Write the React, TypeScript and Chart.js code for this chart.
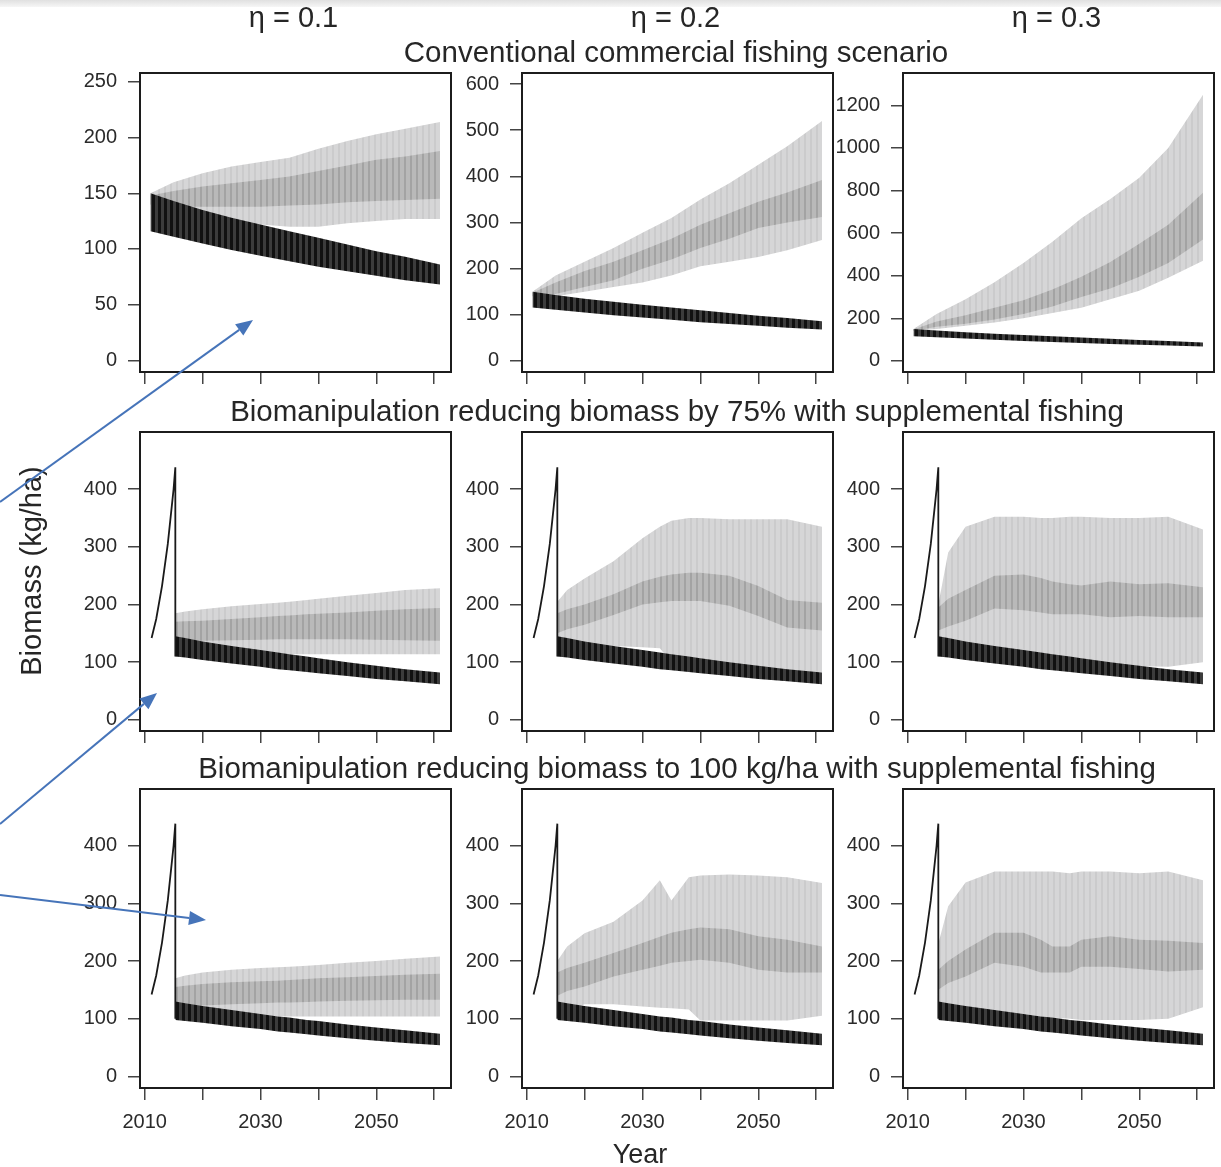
import React, { useEffect, useRef } from "react";
import { Chart, registerables } from "chart.js";
Chart.register(...registerables);

// ---------- data ----------
const xTickValues = [2010, 2020, 2030, 2040, 2050, 2060];
const xLabelValues = [2010, 2030, 2050];
const yTicksConv01 = [0, 50, 100, 150, 200, 250];
const yTicksConv02 = [0, 100, 200, 300, 400, 500, 600];
const yTicksConv03 = [0, 200, 400, 600, 800, 1000, 1200];
const yTicksBio = [0, 100, 200, 300, 400];

const etaLabels = ["η = 0.1", "η = 0.2", "η = 0.3"];
const rowTitles = [
  "Conventional commercial fishing scenario",
  "Biomanipulation reducing biomass by 75% with supplemental fishing",
  "Biomanipulation reducing biomass to 100 kg/ha with supplemental fishing",
];

// conventional scenario (row 1)
const yearsConv = [2011, 2015, 2020, 2025, 2030, 2035, 2040, 2045, 2050, 2055, 2061];
const convBlackHi = [150, 143, 135, 128, 122, 116, 110, 104, 98, 93, 86];
const convBlackLo = [116, 111, 105, 99, 94, 89, 84, 80, 76, 72, 68];

const conv01OuterHi = [150, 160, 168, 174, 178, 182, 190, 197, 203, 208, 214];
const conv01OuterLo = [140, 133, 128, 124, 122, 120, 120, 123, 125, 127, 127];
const conv01InnerHi = [148, 152, 156, 159, 162, 165, 170, 175, 180, 183, 188];
const conv01InnerLo = [140, 138, 138, 138, 138, 139, 140, 142, 143, 144, 145];

const conv02OuterHi = [150, 185, 215, 245, 278, 310, 350, 385, 425, 465, 520];
const conv02OuterLo = [140, 140, 150, 160, 170, 185, 205, 215, 225, 240, 262];
const conv02InnerHi = [148, 170, 195, 215, 240, 265, 295, 320, 345, 365, 392];
const conv02InnerLo = [140, 145, 160, 175, 200, 220, 245, 265, 288, 300, 312];

const conv03OuterHi = [150, 220, 290, 370, 460, 560, 670, 760, 860, 1000, 1250];
const conv03OuterLo = [140, 150, 165, 180, 200, 225, 250, 290, 330, 390, 470];
const conv03InnerHi = [148, 185, 215, 250, 285, 335, 395, 465, 550, 640, 790];
const conv03InnerLo = [140, 160, 175, 195, 220, 255, 300, 340, 395, 460, 570];

// biomanipulation scenarios (rows 2 and 3)
const yearsPre = [2011.2, 2012, 2013, 2014, 2015, 2015.3, 2015.3];
const pre75 = [142, 175, 232, 305, 400, 438, 110];
const pre100 = [142, 175, 232, 305, 400, 438, 100];

const yearsBio = [2015.3, 2017, 2020, 2025, 2030, 2033, 2035, 2038, 2040, 2045, 2050, 2055, 2061];
const bio75BlackHi = [145, 142, 136, 128, 121, 117, 114, 110, 107, 100, 94, 88, 82];
const bio75BlackLo = [110, 108, 104, 98, 92, 88, 86, 83, 81, 76, 71, 67, 62];
const bio100BlackHi = [130, 127, 122, 115, 108, 104, 102, 98, 96, 90, 85, 80, 74];
const bio100BlackLo = [98, 96, 93, 87, 82, 78, 76, 73, 71, 66, 62, 58, 54];

const b75e01OuterHi = [185, 188, 192, 197, 201, 203, 205, 208, 210, 215, 220, 225, 228];
const b75e01OuterLo = [112, 112, 113, 113, 114, 114, 114, 114, 114, 114, 114, 114, 114];
const b75e01InnerHi = [170, 171, 172, 175, 178, 180, 181, 183, 184, 186, 189, 192, 194];
const b75e01InnerLo = [135, 136, 137, 138, 139, 140, 140, 140, 140, 140, 139, 138, 137];

const b75e02OuterHi = [205, 225, 245, 275, 315, 335, 345, 350, 350, 348, 348, 348, 335];
const b75e02OuterLo = [112, 118, 122, 128, 126, 124, 100, 96, 95, 90, 88, 85, 82];
const b75e02InnerHi = [185, 192, 200, 218, 240, 248, 252, 255, 255, 250, 232, 208, 203];
const b75e02InnerLo = [150, 157, 165, 182, 200, 204, 206, 206, 206, 198, 180, 160, 155];

const b75e03OuterHi = [200, 290, 335, 352, 352, 350, 350, 352, 352, 350, 350, 352, 330];
const b75e03OuterLo = [112, 111, 110, 105, 100, 99, 98, 97, 97, 95, 93, 92, 100];
const b75e03InnerHi = [195, 210, 225, 250, 252, 246, 240, 235, 233, 240, 235, 237, 230];
const b75e03InnerLo = [155, 162, 172, 193, 190, 186, 183, 183, 183, 178, 180, 178, 178];

const b100e01OuterHi = [170, 175, 180, 185, 188, 189, 190, 192, 193, 197, 200, 204, 208];
const b100e01OuterLo = [100, 101, 102, 103, 104, 104, 104, 104, 104, 104, 104, 104, 104];
const b100e01InnerHi = [155, 157, 160, 163, 165, 166, 167, 169, 170, 172, 174, 176, 178];
const b100e01InnerLo = [120, 121, 123, 125, 127, 128, 128, 129, 130, 131, 132, 133, 133];

const b100e02OuterHi = [200, 225, 248, 268, 305, 340, 305, 345, 348, 350, 348, 345, 335];
const b100e02OuterLo = [100, 112, 125, 125, 121, 119, 118, 116, 97, 97, 97, 97, 105];
const b100e02InnerHi = [180, 188, 197, 214, 231, 242, 249, 255, 258, 255, 243, 237, 225];
const b100e02InnerLo = [140, 148, 156, 173, 185, 192, 197, 200, 202, 197, 185, 180, 180];

const b100e03OuterHi = [230, 295, 336, 355, 355, 355, 355, 352, 355, 355, 352, 355, 340];
const b100e03OuterLo = [105, 108, 110, 110, 108, 104, 102, 100, 98, 98, 98, 100, 120];
const b100e03InnerHi = [185, 200, 220, 249, 249, 237, 225, 225, 237, 243, 237, 235, 231];
const b100e03InnerLo = [150, 162, 173, 197, 190, 180, 180, 180, 190, 190, 186, 182, 185];

// ---------- layout ----------
const FONT = "'Liberation Sans', Arial, Helvetica, sans-serif";
const colLeft = [140, 522, 903];
const rowTop = [73, 432, 789];
const BOX_W = 311;
const BOX_H = 299;
const PAD_L = 4, PAD_T = 30, PAD_R = 20, PAD_B = 4, Y_AXIS_W = 80, X_AXIS_H = 60;
const X_MIN = 2009.2, X_MAX = 2062.9;

type Series = {
  years: number[];
  blackHi: number[]; blackLo: number[];
  innerHi: number[]; innerLo: number[];
  outerHi: number[]; outerLo: number[];
  preYears?: number[]; pre?: number[];
  bandYears: number[];
};

type PanelDef = {
  row: number; col: number; yMin: number; yMax: number; yTicks: number[];
  s: Series;
};

const panels: PanelDef[] = [
  { row: 0, col: 0, yMin: -10.5, yMax: 258, yTicks: yTicksConv01,
    s: { years: yearsConv, bandYears: yearsConv, blackHi: convBlackHi, blackLo: convBlackLo, innerHi: conv01InnerHi, innerLo: conv01InnerLo, outerHi: conv01OuterHi, outerLo: conv01OuterLo } },
  { row: 0, col: 1, yMin: -24, yMax: 624, yTicks: yTicksConv02,
    s: { years: yearsConv, bandYears: yearsConv, blackHi: convBlackHi, blackLo: convBlackLo, innerHi: conv02InnerHi, innerLo: conv02InnerLo, outerHi: conv02OuterHi, outerLo: conv02OuterLo } },
  { row: 0, col: 2, yMin: -52, yMax: 1352, yTicks: yTicksConv03,
    s: { years: yearsConv, bandYears: yearsConv, blackHi: convBlackHi, blackLo: convBlackLo, innerHi: conv03InnerHi, innerLo: conv03InnerLo, outerHi: conv03OuterHi, outerLo: conv03OuterLo } },
  { row: 1, col: 0, yMin: -19.2, yMax: 499, yTicks: yTicksBio,
    s: { years: yearsBio, bandYears: yearsBio, blackHi: bio75BlackHi, blackLo: bio75BlackLo, innerHi: b75e01InnerHi, innerLo: b75e01InnerLo, outerHi: b75e01OuterHi, outerLo: b75e01OuterLo, preYears: yearsPre, pre: pre75 } },
  { row: 1, col: 1, yMin: -19.2, yMax: 499, yTicks: yTicksBio,
    s: { years: yearsBio, bandYears: yearsBio, blackHi: bio75BlackHi, blackLo: bio75BlackLo, innerHi: b75e02InnerHi, innerLo: b75e02InnerLo, outerHi: b75e02OuterHi, outerLo: b75e02OuterLo, preYears: yearsPre, pre: pre75 } },
  { row: 1, col: 2, yMin: -19.2, yMax: 499, yTicks: yTicksBio,
    s: { years: yearsBio, bandYears: yearsBio, blackHi: bio75BlackHi, blackLo: bio75BlackLo, innerHi: b75e03InnerHi, innerLo: b75e03InnerLo, outerHi: b75e03OuterHi, outerLo: b75e03OuterLo, preYears: yearsPre, pre: pre75 } },
  { row: 2, col: 0, yMin: -20, yMax: 498, yTicks: yTicksBio,
    s: { years: yearsBio, bandYears: yearsBio, blackHi: bio100BlackHi, blackLo: bio100BlackLo, innerHi: b100e01InnerHi, innerLo: b100e01InnerLo, outerHi: b100e01OuterHi, outerLo: b100e01OuterLo, preYears: yearsPre, pre: pre100 } },
  { row: 2, col: 1, yMin: -20, yMax: 498, yTicks: yTicksBio,
    s: { years: yearsBio, bandYears: yearsBio, blackHi: bio100BlackHi, blackLo: bio100BlackLo, innerHi: b100e02InnerHi, innerLo: b100e02InnerLo, outerHi: b100e02OuterHi, outerLo: b100e02OuterLo, preYears: yearsPre, pre: pre100 } },
  { row: 2, col: 2, yMin: -20, yMax: 498, yTicks: yTicksBio,
    s: { years: yearsBio, bandYears: yearsBio, blackHi: bio100BlackHi, blackLo: bio100BlackLo, innerHi: b100e03InnerHi, innerLo: b100e03InnerLo, outerHi: b100e03OuterHi, outerLo: b100e03OuterLo, preYears: yearsPre, pre: pre100 } },
];

function stripePattern(ctx: CanvasRenderingContext2D, base: string, stripe: string, period: number, stripeW: number) {
  const c = document.createElement("canvas");
  c.width = period;
  c.height = 4;
  const g = c.getContext("2d")!;
  g.fillStyle = base;
  g.fillRect(0, 0, period, 4);
  g.fillStyle = stripe;
  g.fillRect(0, 0, stripeW, 4);
  return ctx.createPattern(c, "repeat");
}

const boxPlugin = {
  id: "box",
  afterDatasetsDraw(chart: any) {
    const { ctx, chartArea: a } = chart;
    ctx.save();
    ctx.strokeStyle = "#1c1c1c";
    ctx.lineWidth = 2;
    ctx.strokeRect(a.left, a.top, a.right - a.left, a.bottom - a.top);
    ctx.restore();
  },
};

function pts(xs: number[], ys: number[]) {
  return xs.map((x, i) => ({ x, y: ys[i] }));
}

function Panel({ def }: { def: PanelDef }) {
  const ref = useRef<HTMLCanvasElement | null>(null);
  const width = PAD_L + Y_AXIS_W + BOX_W + PAD_R;
  const height = PAD_T + BOX_H + X_AXIS_H + PAD_B;
  const left = colLeft[def.col] - PAD_L - Y_AXIS_W;
  const top = rowTop[def.row] - PAD_T;
  const showX = def.row === 2;

  useEffect(() => {
    const canvas = ref.current!;
    const ctx = canvas.getContext("2d")!;
    const outerFill = stripePattern(ctx, "#d6d6d7", "#cbcbcc", 6, 2);
    const innerFill = stripePattern(ctx, "#b9b9b9", "#a3a3a3", 6, 2);
    const blackFill = stripePattern(ctx, "#3c3c3c", "#111111", 6, 3);
    const s = def.s;
    const hidden = { borderColor: "rgba(0,0,0,0)", borderWidth: 0, pointRadius: 0, tension: 0 };
    const datasets: any[] = [];
    if (s.pre && s.preYears) {
      datasets.push({ data: pts(s.preYears, s.pre), borderColor: "#1a1a1a", borderWidth: 1.8, pointRadius: 0, fill: false, tension: 0 });
    }
    datasets.push({ ...hidden, data: pts(s.years, s.blackHi), fill: "+1", backgroundColor: blackFill });
    datasets.push({ ...hidden, data: pts(s.years, s.blackLo), fill: false });
    datasets.push({ ...hidden, data: pts(s.bandYears, s.innerHi), fill: "+1", backgroundColor: innerFill });
    datasets.push({ ...hidden, data: pts(s.bandYears, s.innerLo), fill: false });
    datasets.push({ ...hidden, data: pts(s.bandYears, s.outerHi), fill: "+1", backgroundColor: outerFill });
    datasets.push({ ...hidden, data: pts(s.bandYears, s.outerLo), fill: false });

    const tickFont = { family: FONT, size: 20 };
    const grid = { drawOnChartArea: false, drawTicks: true, tickLength: 12, color: "#444", lineWidth: 1.5 };
    const chart = new Chart(ctx, {
      type: "line",
      data: { datasets },
      options: {
        animation: false,
        responsive: false,
        maintainAspectRatio: false,
        events: [],
        layout: { padding: { left: PAD_L, top: PAD_T, right: PAD_R, bottom: PAD_B } },
        plugins: { legend: { display: false }, tooltip: { enabled: false }, title: { display: false } },
        scales: {
          x: {
            type: "linear",
            min: X_MIN,
            max: X_MAX,
            afterBuildTicks: (sc: any) => { sc.ticks = xTickValues.map((v) => ({ value: v })); },
            afterFit: (sc: any) => { sc.height = X_AXIS_H; },
            ticks: {
              autoSkip: false,
              maxRotation: 0,
              padding: 10,
              font: tickFont,
              color: "#2a2a2a",
              callback: (v: any) => (showX && xLabelValues.includes(Number(v)) ? String(v) : ""),
            },
            grid,
            border: { display: false },
          },
          y: {
            type: "linear",
            min: def.yMin,
            max: def.yMax,
            afterBuildTicks: (sc: any) => { sc.ticks = def.yTicks.map((v) => ({ value: v })); },
            afterFit: (sc: any) => { sc.width = Y_AXIS_W; },
            ticks: { padding: 11, font: tickFont, color: "#2a2a2a", callback: (v: any) => String(v) },
            grid,
            border: { display: false },
          },
        },
      } as any,
      plugins: [boxPlugin],
    });
    return () => chart.destroy();
  }, []);

  return (
    <canvas
      ref={ref}
      width={width}
      height={height}
      style={{ position: "absolute", left, top, width, height }}
    />
  );
}

function Arrow({ x1, y1, x2, y2 }: { x1: number; y1: number; x2: number; y2: number }) {
  const ang = Math.atan2(y2 - y1, x2 - x1);
  const L = 17, Wd = 7;
  const bx = x2 - L * Math.cos(ang), by = y2 - L * Math.sin(ang);
  const px = -Math.sin(ang) * Wd, py = Math.cos(ang) * Wd;
  return (
    <g>
      <line x1={x1} y1={y1} x2={bx} y2={by} stroke="#4674b9" strokeWidth={2} />
      <polygon points={`${x2},${y2} ${bx + px},${by + py} ${bx - px},${by - py}`} fill="#4674b9" />
    </g>
  );
}

export default function App() {
  const colCenter = colLeft.map((l) => l + BOX_W / 2);
  return (
    <div style={{ position: "absolute", left: 0, top: 0, width: 1221, height: 1167, background: "#fff", overflow: "hidden" }}>
      <div style={{ position: "absolute", left: 0, top: 0, width: 1221, height: 7, background: "linear-gradient(#e0e0e0, #f6f6f6)" }} />
      {panels.map((p, i) => (
        <Panel key={i} def={p} />
      ))}
      <svg width={1221} height={1167} style={{ position: "absolute", left: 0, top: 0, pointerEvents: "none" }}>
        <g fontFamily={FONT} fill="#262626">
          {etaLabels.map((t, i) => (
            <text key={t} x={colCenter[i] - 2} y={27} fontSize={29} textAnchor="middle">{t}</text>
          ))}
          <text x={676} y={62} fontSize={29.5} textAnchor="middle">{rowTitles[0]}</text>
          <text x={677} y={421} fontSize={29.5} textAnchor="middle">{rowTitles[1]}</text>
          <text x={677} y={778} fontSize={29.5} textAnchor="middle">{rowTitles[2]}</text>
          <text x={640} y={1163} fontSize={27} textAnchor="middle">Year</text>
          <text transform="translate(41,571) rotate(-90)" fontSize={29} textAnchor="middle">Biomass (kg/ha)</text>
        </g>
        <Arrow x1={0} y1={502} x2={253} y2={320} />
        <Arrow x1={0} y1={824} x2={157} y2={693} />
        <Arrow x1={0} y1={895} x2={206} y2={920} />
      </svg>
    </div>
  );
}
